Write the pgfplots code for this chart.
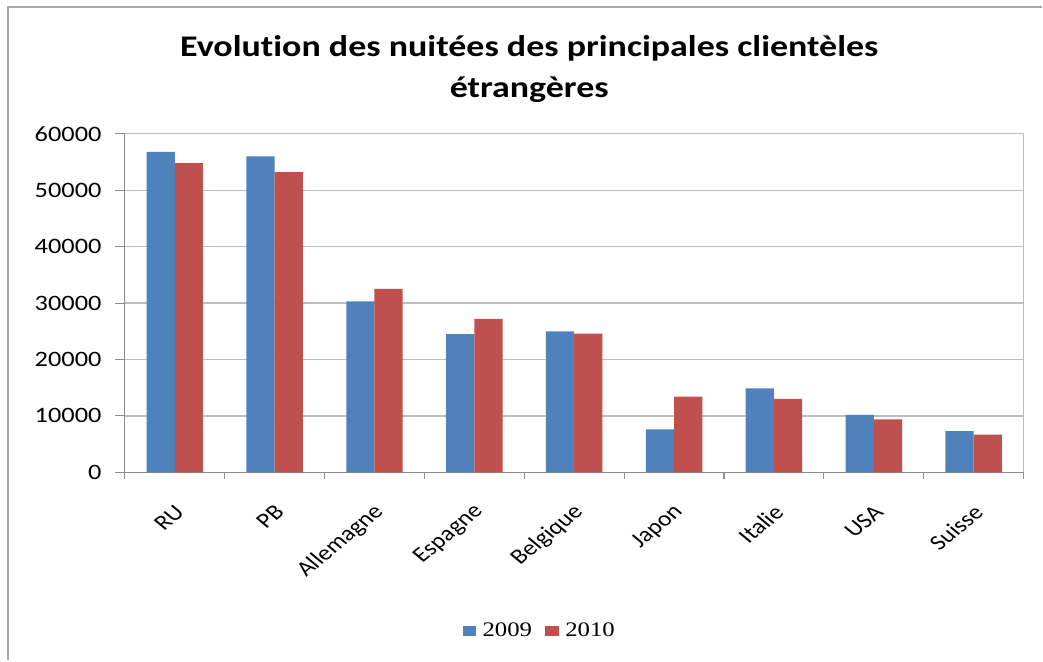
\documentclass[border=0pt]{standalone}
\usepackage{fontspec}
\setmainfont{Carlito}[FakeStretch=1.2, Ligatures=NoCommon]
\newfontfamily\plainfont{Carlito}[Ligatures=NoCommon]
\newfontfamily\legfont{Liberation Serif}[FakeStretch=1.2]
\usepackage{pgfplots}
\pgfplotsset{compat=1.18}
\definecolor{cblue}{HTML}{4F81BD}
\definecolor{cred}{HTML}{C0504D}
\definecolor{gridc}{HTML}{BEBEBE}
\definecolor{axc}{HTML}{8C8C8C}
\begin{document}
\begin{tikzpicture}[x=0.75pt,y=0.75pt]
\path (0,0) rectangle (1043,661);
\draw[line width=2.2pt, color=gray!70] (8,0) -- (8,654) -- (1043,654);
\node[font=\bfseries\fontsize{22.5}{31}\selectfont, align=center] at (530,592) {Evolution des nuitées des principales clientèles\\étrangères};
\begin{axis}[
  at={(93.75pt,141pt)}, anchor=south west,
  scale only axis, width=675pt, height=254.25pt,
  ybar=0pt, bar width=21.2pt,
  xmin=-0.5, xmax=8.5, ymin=0, ymax=60000,
  ytick={0,10000,...,60000},
  xtick=data,
  xticklabels={RU,PB,Allemagne,Espagne,Belgique,Japon,Italie,USA,Suisse},
  minor xtick={-0.5,0.5,...,8.5},
  major x tick style={draw=none},
  tick align=outside,
  major tick length=7.5pt, minor tick length=5pt,
  tick style={color=axc, line width=0.8pt},
  ymajorgrids, grid style={color=gridc, line width=0.9pt},
  axis line style={color=axc, line width=0.9pt},
  axis x line*=bottom, axis y line*=left,
  /pgf/number format/assume math mode=true,
  scaled y ticks=false,
  yticklabel style={/pgf/number format/fixed, /pgf/number format/1000 sep={}, font=\fontsize{16.5}{18}\selectfont, xshift=-6.5pt},
  xticklabel style={xshift=6.7pt, yshift=-17.5pt, xscale=1.2, rotate=45, anchor=east, font=\plainfont\fontsize{16}{18}\selectfont},
  legend style={at={(0.462,-0.469)}, anchor=center, draw=none, legend columns=2, font=\legfont\fontsize{15.5}{18}\selectfont, /tikz/every even column/.append style={column sep=8pt}},
  legend image code/.code={\fill[#1] (0pt,-3.75pt) rectangle (10pt,3.75pt);},
  clip=false,
]
\addplot[fill=cblue, draw=none] coordinates {(0,56800) (1,56000) (2,30300) (3,24500) (4,25000) (5,7600) (6,14900) (7,10200) (8,7300)};
\addplot[fill=cred, draw=none] coordinates {(0,54800) (1,53200) (2,32500) (3,27200) (4,24600) (5,13400) (6,13000) (7,9400) (8,6700)};
\legend{\hspace{3pt}2009,\hspace{3pt}2010}
\draw[color=gridc, line width=0.9pt] (rel axis cs:0,1) -- (rel axis cs:1,1) -- (rel axis cs:1,0);
\end{axis}
\end{tikzpicture}
\end{document}
